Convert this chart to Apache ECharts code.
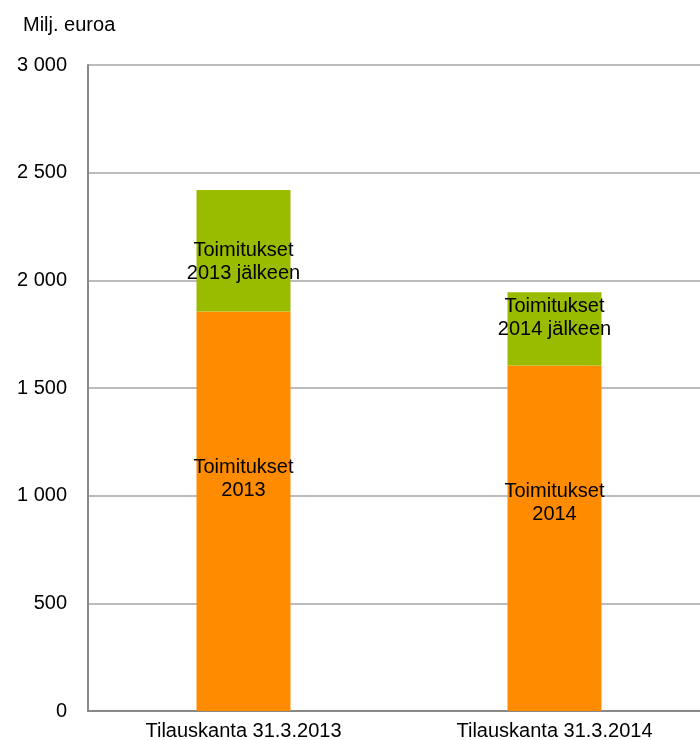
<!DOCTYPE html>
<html>
<head>
<meta charset="utf-8">
<script src="https://cdn.jsdelivr.net/npm/echarts@6/dist/echarts.min.js"></script>
<style>
  html, body { margin: 0; padding: 0; background: #fff; }
  #main { width: 700px; height: 740px; }
</style>
</head>
<body>
<div id="main"></div>
<script>
// kategoriat ja arvot (milj. euroa)
var categories = ['Tilauskanta 31.3.2013', 'Tilauskanta 31.3.2014'];
var toimituksetVuonna = [1855, 1605];
var toimituksetJalkeen = [565, 340];
var labelsVuonna = ['Toimitukset\n2013', 'Toimitukset\n2014'];
var labelsJalkeen = ['Toimitukset\n2013 jälkeen', 'Toimitukset\n2014 jälkeen'];

var myChart = echarts.init(document.getElementById('main'));

var font = 'Liberation Sans, Arial, sans-serif';
var offsetsVuonna = [[0, -32], [0, -35]];
var offsetsJalkeen = [[0, 11], [0, -11]];

function items(values, labels, offsets) {
    return values.map(function (v, i) {
        return {
            value: v,
            label: { formatter: labels[i], offset: offsets[i] }
        };
    });
}

var labelStyle = {
    show: true,
    position: 'inside',
    color: '#000',
    fontFamily: font,
    fontSize: 20,
    lineHeight: 23
};

var option = {
    animation: false,
    title: {
        text: 'Milj. euroa',
        left: 18,
        top: 10,
        textStyle: { fontFamily: font, fontSize: 20, fontWeight: 'normal', color: '#000' }
    },
    grid: {
        left: 88,
        width: 622,
        top: 65,
        bottom: 29,
        outerBoundsMode: 'none'
    },
    xAxis: {
        type: 'category',
        data: categories,
        axisLine: { lineStyle: { color: '#888', width: 2 } },
        axisTick: { show: false },
        axisLabel: { color: '#000', fontFamily: font, fontSize: 20, margin: 10 }
    },
    yAxis: {
        type: 'value',
        min: 0,
        max: 3000,
        interval: 500,
        axisLine: { show: true, lineStyle: { color: '#888', width: 2 } },
        axisTick: { show: false },
        splitLine: { lineStyle: { color: '#a6a6a6', width: 1.5 } },
        axisLabel: {
            color: '#000',
            fontFamily: font,
            fontSize: 20,
            margin: 21,
            formatter: function (v) {
                return v >= 1000 ? Math.floor(v / 1000) + ' ' + String(v % 1000).padStart(3, '0') : String(v);
            }
        }
    },
    series: [
        {
            name: 'Toimitukset vuonna',
            type: 'bar',
            stack: 'total',
            barWidth: 94,
            color: '#ff8c00',
            label: labelStyle,
            data: items(toimituksetVuonna, labelsVuonna, offsetsVuonna)
        },
        {
            name: 'Toimitukset jälkeen',
            type: 'bar',
            stack: 'total',
            barWidth: 94,
            color: '#99bb00',
            label: labelStyle,
            data: items(toimituksetJalkeen, labelsJalkeen, offsetsJalkeen)
        }
    ]
};

myChart.setOption(option);
</script>
</body>
</html>
